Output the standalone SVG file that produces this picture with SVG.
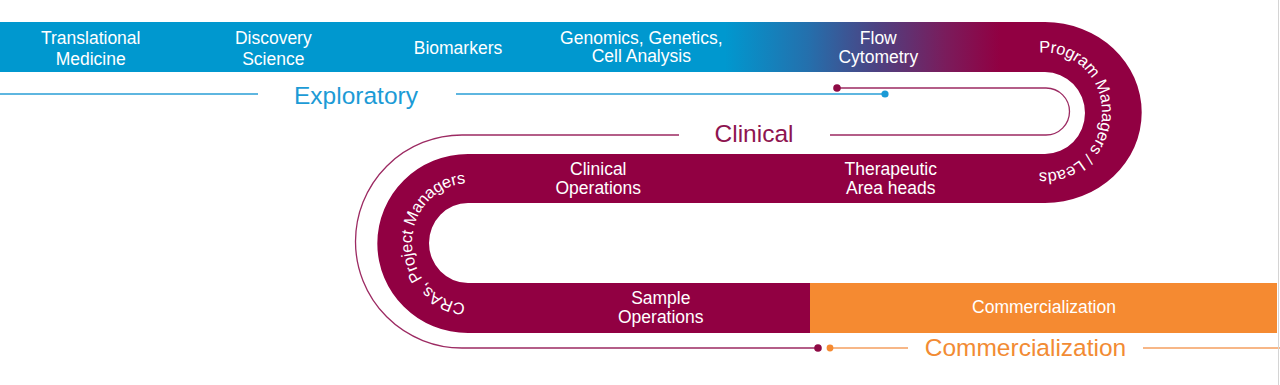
<svg xmlns="http://www.w3.org/2000/svg" width="1280" height="385" viewBox="0 0 1280 385">
  <defs>
    <linearGradient id="topGrad" gradientUnits="userSpaceOnUse" x1="725" y1="0" x2="1000" y2="0">
      <stop offset="0" stop-color="#0098cf"/>
      <stop offset="0.3" stop-color="#2470ad"/>
      <stop offset="0.55" stop-color="#4d4282"/>
      <stop offset="0.8" stop-color="#7a1c5c"/>
      <stop offset="1" stop-color="#910042"/>
    </linearGradient>
    <path id="arcRight" d="M 1016.5 60.54 A 57 60 0 1 1 1016.5 164.46"/>
    <path id="arcLeft" d="M 496 295.46 A 56 60 0 1 1 496 191.54"/>
    <style>
      text { font-family: "Liberation Sans", Arial, sans-serif; }
      .band { fill: #ffffff; font-size: 17.5px; text-anchor: middle; }
      .curve { fill: #ffffff; font-size: 16.5px; letter-spacing: -0.2px; text-anchor: middle; }
      .big { font-size: 24.5px; text-anchor: middle; }
      .thinM { fill: none; stroke: #9c2a62; stroke-width: 1.3; }
      .thinB { fill: none; stroke: #2a9fd6; stroke-width: 1.5; }
      .thinO { fill: none; stroke: #f5a060; stroke-width: 1.5; }
    </style>
  </defs>
  <rect x="0" y="0" width="1280" height="385" fill="#ffffff"/>

  <g id="track">
    <rect x="0" y="22" width="1046" height="50" fill="url(#topGrad)"/>
    <path d="M 1045 22 A 96.7 90.5 0 0 1 1045 203 L 468 203 A 39 40 0 0 0 468 283 L 810 283 L 810 333 L 468 333 A 90.7 89.5 0 0 1 468 154 L 1045 154 A 40 41 0 0 0 1045 72 Z" fill="#910042"/>
    <rect x="810" y="283" width="467" height="50" fill="#f58a31"/>
  </g>

  <g id="connectors">
    <path class="thinB" d="M 0 94 H 258 M 456 94 H 885"/>
    <circle cx="885" cy="94" r="3.6" fill="#1a9ad6"/>
    <path class="thinM" d="M 837 88 H 1046 A 23.5 23.5 0 0 1 1046 135 H 830 M 679 135 H 462 A 106.5 106.5 0 0 0 462 348 H 818"/>
    <circle cx="837" cy="88" r="3.8" fill="#8e0a45"/>
    <circle cx="818" cy="348" r="3.8" fill="#8e0a45"/>
    <path class="thinO" d="M 830 348 H 908 M 1143 348 H 1280"/>
    <circle cx="830" cy="348" r="3.4" fill="#f58a31"/>
  </g>

  <g id="phase-exploratory"><text class="big" x="356" y="104" fill="#1c9bd6">Exploratory</text></g>
  <g id="phase-clinical"><text class="big" x="754" y="142" fill="#8e1450">Clinical</text></g>
  <g id="phase-commercialization"><text class="big" x="1025.5" y="356" fill="#f28b33">Commercialization</text></g>

  <g id="node-translational"><text class="band" x="90.7" y="44.3">Translational</text><text class="band" x="90.7" y="65">Medicine</text></g>
  <g id="node-discovery"><text class="band" x="273.3" y="44.3">Discovery</text><text class="band" x="273.3" y="65">Science</text></g>
  <g id="node-biomarkers"><text class="band" x="458" y="54">Biomarkers</text></g>
  <g id="node-genomics"><text class="band" x="641.3" y="43.5">Genomics, Genetics,</text><text class="band" x="641.3" y="62">Cell Analysis</text></g>
  <g id="node-flow"><text class="band" x="878.3" y="44.3">Flow</text><text class="band" x="878.3" y="63">Cytometry</text></g>
  <g id="node-program"><text class="curve"><textPath href="#arcRight" startOffset="50%">Program Managers / Leads</textPath></text></g>
  <g id="node-therapeutic"><text class="band" x="890.8" y="175">Therapeutic</text><text class="band" x="890.8" y="193.5">Area heads</text></g>
  <g id="node-clinops"><text class="band" x="598.3" y="175">Clinical</text><text class="band" x="598.3" y="194">Operations</text></g>
  <g id="node-cras"><text class="curve"><textPath href="#arcLeft" startOffset="50%">CRAs, Project Managers</textPath></text></g>
  <g id="node-sample"><text class="band" x="660.8" y="304">Sample</text><text class="band" x="660.8" y="323">Operations</text></g>
  <g id="node-commercialization"><text class="band" x="1044" y="313.3">Commercialization</text></g>

  <line x1="1278.5" y1="0" x2="1278.5" y2="385" stroke="#d4d4d4" stroke-width="1"/>
</svg>
